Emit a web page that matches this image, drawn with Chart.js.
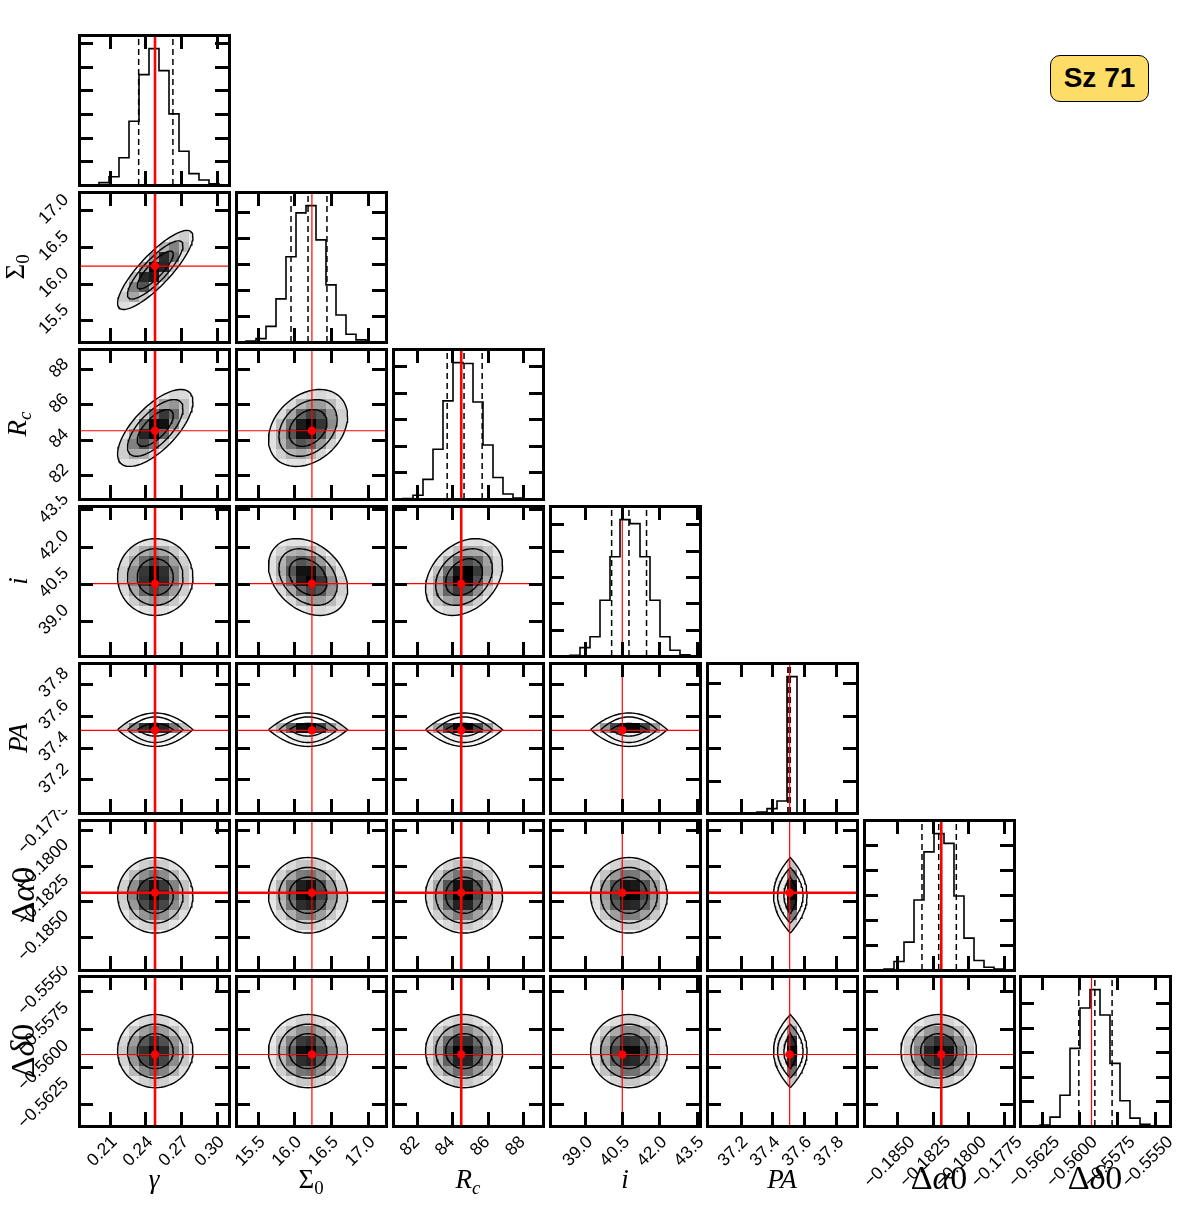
<!DOCTYPE html>
<html>
<head>
<meta charset="utf-8">
<title>Sz 71 corner plot</title>
<script src="https://cdn.jsdelivr.net/npm/chart.js@4.4.1/dist/chart.umd.min.js"></script>
<style>
html, body { margin:0; padding:0; background:#fff; }
#fig { position:relative; width:1200px; height:1205px; background:#fff; overflow:hidden; }
#fig canvas { position:absolute; }
.ttl { position:absolute; font-family:"Liberation Serif","DejaVu Serif",serif; color:#000; white-space:nowrap; line-height:1; }
.bt { transform:translateX(-50%); }
.lt { transform:translate(-50%,-50%) rotate(-90deg); }
.ttl sub { font-size:0.7em; vertical-align:-0.3em; line-height:0; }
#badge { position:absolute; left:1050px; top:55px; width:99px; height:47px; box-sizing:border-box; border:1.5px solid #000; border-radius:10px; background:#FDDC68; font-family:"Liberation Sans",Arial,sans-serif; font-weight:bold; font-size:28px; line-height:44px; text-align:center; color:#000; }
</style>
</head>
<body>
<div id="fig"><div id="badge">Sz 71</div></div>
<script>
// ---------------- data ----------------
const paramKeys   = ['gamma', 'Sigma0', 'Rc', 'i', 'PA', 'dAlpha0', 'dDelta0'];
const axisTitles  = ['<i>γ</i>', 'Σ<sub>0</sub>', '<i>R</i><sub><i>c</i></sub>', '<i>i</i>', '<i>PA</i>', 'Δ<i>α</i>0', 'Δ<i>δ</i>0'];
const axisMin     = [0.1843, 15.205, 80.62, 37.58, 36.99, -0.18730, -0.56393];
const axisMax     = [0.3100, 17.250, 89.15, 43.64, 37.93, -0.17682, -0.55401];
const tickValues  = [
  [0.21, 0.24, 0.27, 0.30],
  [15.5, 16.0, 16.5, 17.0],
  [82, 84, 86, 88],
  [39.0, 40.5, 42.0, 43.5],
  [37.2, 37.4, 37.6, 37.8],
  [-0.1850, -0.1825, -0.1800, -0.1775],
  [-0.5625, -0.5600, -0.5575, -0.5550]
];
const tickLabels  = [
  ['0.21', '0.24', '0.27', '0.30'],
  ['15.5', '16.0', '16.5', '17.0'],
  ['82', '84', '86', '88'],
  ['39.0', '40.5', '42.0', '43.5'],
  ['37.2', '37.4', '37.6', '37.8'],
  ['\u22120.1850', '\u22120.1825', '\u22120.1800', '\u22120.1775'],
  ['\u22120.5625', '\u22120.5600', '\u22120.5575', '\u22120.5550']
];
const truthValues = [0.248, 16.24, 84.5, 40.5, 37.508, -0.1819, -0.5592];
const quantile16  = [0.2343, 15.955, 83.70, 40.07, 37.497, -0.18325, -0.56004];
const quantile50  = [0.2482, 16.187, 84.66, 40.77, 37.505, -0.18208, -0.55898];
const quantile84  = [0.2630, 16.445, 85.69, 41.48, 37.512, -0.18085, -0.55784];
// 15 bins spanning each axis range
const histCounts  = [
  [0, 0, 100, 350, 1150, 2700, 4670, 5770, 4840, 3010, 1430, 480, 210, 55, 0],
  [0, 40, 130, 600, 1660, 3280, 4970, 5250, 3930, 2200, 1040, 300, 80, 0, 0],
  [0, 13, 140, 740, 1870, 3690, 5130, 5100, 3650, 2030, 810, 190, 40, 0, 0],
  [0, 0, 26, 320, 730, 2120, 3770, 5180, 5030, 3770, 2120, 730, 220, 50, 0],
  [30, 0, 0, 0, 30, 155, 670, 1860, 21030, 50, 0, 0, 0, 0, 0],
  [0, 0, 40, 340, 1120, 2810, 4740, 5470, 5080, 2970, 1280, 380, 110, 40, 0],
  [0, 0, 40, 360, 1250, 3160, 4800, 5550, 4520, 2550, 1030, 320, 70, 0, 0]
];
const histTickStep = [1000, 1000, 1000, 1000, 5000, 1000, 1000];
const spread2d     = [0.01435, 0.245, 0.995, 0.705, 0.048, 0.0012, 0.0011];
const correlations = [[1, 0, 0.84], [2, 0, 0.68], [2, 1, 0.30], [3, 1, -0.30], [3, 2, 0.30]];
const contourSigmas = [1.05, 1.62, 2.2];
const paLensHalf    = [0.040, 0.080, 0.105];
const paCenter2d    = 37.512;

// ---------------- layout / style ----------------
const PA = 4;
const N = paramKeys.length;
const panelLeft = [79, 236, 393, 550, 707, 864, 1020];
const panelTop  = [35, 192, 349, 506, 663, 820, 976];
const PANEL = 150, FIG_H = 1205, TICK_LEN = 14;
const FONT_TICK = '"Liberation Sans", Arial, Helvetica, sans-serif';
const FS = 17.5;
const RED = '#ff0000';
const redVWidth = [2.6, 1.2, 2.6, 1.2, 1.2, 2.6, 1.2];
const redHWidth = [1.2, 1.2, 1.2, 1.2, 1.2, 2.6, 1.2];
const bottomTitleSize = [27, 27, 27, 27, 27, 34, 34];
const leftTitleX = [0, 15, 17, 18, 18, 23, 23];

const fig = document.getElementById('fig');
const mctx = document.createElement('canvas').getContext('2d');
mctx.font = FS + 'px ' + FONT_TICK;
const textLen = s => mctx.measureText(s).width;

function rhoFor(a, b) {
  for (const [p, q, v] of correlations) if ((p === a && q === b) || (p === b && q === a)) return v;
  return 0;
}

function cellsFor(px, py) {
  const nb = histCounts[px].length;
  const dx = (axisMax[px] - axisMin[px]) / nb, dy = (axisMax[py] - axisMin[py]) / nb;
  const rho = rhoFor(px, py);
  const w = []; let wmax = 0;
  for (let i = 0; i < nb; i++) for (let j = 0; j < nb; j++) {
    let v;
    if (rho === 0) v = histCounts[px][i] * histCounts[py][j];
    else {
      const zx = (axisMin[px] + (i + 0.5) * dx - quantile50[px]) / spread2d[px];
      const zy = (axisMin[py] + (j + 0.5) * dy - quantile50[py]) / spread2d[py];
      v = Math.exp(-0.5 * (zx * zx - 2 * rho * zx * zy + zy * zy) / (1 - rho * rho));
    }
    w.push({ i, j, v }); if (v > wmax) wmax = v;
  }
  return w.filter(o => o.v / wmax > 0.015).map(o => ({
    x0: axisMin[px] + o.i * dx, x1: axisMin[px] + (o.i + 1) * dx,
    y0: axisMin[py] + o.j * dy, y1: axisMin[py] + (o.j + 1) * dy,
    g: Math.round(255 * (1 - o.v / wmax))
  }));
}

function contourFor(px, py, level) {
  const pts = [];
  if (px === PA || py === PA) {
    const other = px === PA ? py : px;
    const W = contourSigmas[level] * spread2d[other];
    const Hh = paLensHalf[level];
    const oc = quantile50[other];
    const n = 40;
    for (let k = 0; k <= n; k++) {
      const t = -1 + 2 * k / n, a = oc + W * t, b = paCenter2d + Hh * (1 - t * t);
      pts.push(px === PA ? { x: b, y: a } : { x: a, y: b });
    }
    for (let k = n; k >= 0; k--) {
      const t = -1 + 2 * k / n, a = oc + W * t, b = paCenter2d - Hh * (1 - t * t);
      pts.push(px === PA ? { x: b, y: a } : { x: a, y: b });
    }
  } else {
    const rho = rhoFor(px, py), r = contourSigmas[level], s = Math.sqrt(1 - rho * rho);
    for (let k = 0; k <= 80; k++) {
      const th = 2 * Math.PI * k / 80, u = r * Math.cos(th), v = r * Math.sin(th);
      pts.push({ x: quantile50[px] + spread2d[px] * u, y: quantile50[py] + spread2d[py] * (rho * u + s * v) });
    }
  }
  return pts;
}

const panelInfo = new Map();
const cornerPlugin = {
  id: 'cornerPanel',
  beforeDatasetsDraw(chart) {
    const info = panelInfo.get(chart.canvas);
    if (!info || !info.cells) return;
    const ctx = chart.ctx, xs = chart.scales.x, ys = chart.scales.y;
    ctx.save();
    ctx.beginPath();
    info.outer.forEach((p, k) => {
      const X = xs.getPixelForValue(p.x), Y = ys.getPixelForValue(p.y);
      if (k === 0) ctx.moveTo(X, Y); else ctx.lineTo(X, Y);
    });
    ctx.closePath();
    ctx.clip();
    for (const c of info.cells) {
      const x0 = Math.round(xs.getPixelForValue(c.x0)), x1 = Math.round(xs.getPixelForValue(c.x1));
      const y0 = Math.round(ys.getPixelForValue(c.y1)), y1 = Math.round(ys.getPixelForValue(c.y0));
      ctx.fillStyle = 'rgb(' + c.g + ',' + c.g + ',' + c.g + ')';
      ctx.fillRect(x0, y0, x1 - x0, y1 - y0);
    }
    ctx.restore();
  },
  afterDraw(chart) {
    const info = panelInfo.get(chart.canvas);
    if (!info) return;
    const ctx = chart.ctx, a = chart.chartArea, xs = chart.scales.x, ys = chart.scales.y;
    ctx.save();
    ctx.strokeStyle = '#000'; ctx.lineWidth = 3; ctx.lineCap = 'butt';
    ctx.beginPath();
    for (const v of info.xTicks) {
      const p = xs.getPixelForValue(v);
      if (p < a.left + 3 || p > a.right - 3) continue;
      const X = Math.round(p) + 0.5;
      ctx.moveTo(X, a.top); ctx.lineTo(X, a.top + TICK_LEN);
      ctx.moveTo(X, a.bottom); ctx.lineTo(X, a.bottom - TICK_LEN);
    }
    for (const v of info.yTicks) {
      const p = ys.getPixelForValue(v);
      if (p < a.top + 3 || p > a.bottom - 3) continue;
      const Y = Math.round(p) + 0.5;
      ctx.moveTo(a.left, Y); ctx.lineTo(a.left + TICK_LEN, Y);
      ctx.moveTo(a.right, Y); ctx.lineTo(a.right - TICK_LEN, Y);
    }
    ctx.stroke();
    ctx.strokeRect(a.left + 0.5, a.top + 0.5, a.right - a.left, a.bottom - a.top);
    ctx.restore();
  }
};

function lineDS(points, color, width, dash) {
  return { data: points, showLine: true, borderColor: color, borderWidth: width, borderDash: dash || [],
           pointRadius: 0, pointHoverRadius: 0, fill: false, tension: 0 };
}

function makePanel(r, c) {
  const isHist = r === c;
  const showX = r === N - 1;
  const showY = c === 0 && r > 0;
  const padL = c === 0 ? panelLeft[0] : 10;
  const padR = showX ? 40 : 10;
  const padT = 10;
  const padB = showX ? FIG_H - (panelTop[r] + PANEL) : 10;
  const W = PANEL + padL + padR, H = PANEL + padT + padB;
  const cv = document.createElement('canvas');
  cv.width = W; cv.height = H;
  cv.style.left = (panelLeft[c] - padL) + 'px';
  cv.style.top = (panelTop[r] - padT) + 'px';
  cv.style.width = W + 'px'; cv.style.height = H + 'px';
  fig.appendChild(cv);

  const datasets = []; // bottom -> top
  let yMin, yMax, yTicks;
  if (isHist) {
    const counts = histCounts[c];
    const nb = counts.length, dx = (axisMax[c] - axisMin[c]) / nb;
    yMin = 0; yMax = 1.1 * Math.max(...counts);
    yTicks = [];
    for (let v = histTickStep[c]; v <= yMax; v += histTickStep[c]) yTicks.push(v);
    const pts = [{ x: axisMin[c], y: 0 }];
    counts.forEach((n, k) => { pts.push({ x: axisMin[c] + k * dx, y: n }, { x: axisMin[c] + (k + 1) * dx, y: n }); });
    pts.push({ x: axisMax[c], y: 0 });
    datasets.push(lineDS(pts, '#000', 1.6));
    for (const q of [quantile16[c], quantile50[c], quantile84[c]])
      datasets.push(lineDS([{ x: q, y: 0 }, { x: q, y: yMax }], '#000', 1.5, [6, 4]));
    datasets.push(lineDS([{ x: truthValues[c], y: 0 }, { x: truthValues[c], y: yMax }], RED, redVWidth[c]));
    panelInfo.set(cv, { xTicks: tickValues[c], yTicks });
  } else {
    yMin = axisMin[r]; yMax = axisMax[r]; yTicks = tickValues[r];
    const contours = [0, 1, 2].map(l => contourFor(c, r, l));
    contours.forEach(p => datasets.push(lineDS(p, '#000', 1.4)));
    datasets.push(lineDS([{ x: truthValues[c], y: axisMin[r] }, { x: truthValues[c], y: axisMax[r] }], RED, redVWidth[c]));
    datasets.push(lineDS([{ x: axisMin[c], y: truthValues[r] }, { x: axisMax[c], y: truthValues[r] }], RED, redHWidth[r]));
    datasets.push({ data: [{ x: truthValues[c], y: truthValues[r] }], showLine: false, pointRadius: 4.2,
                    pointBackgroundColor: RED, pointBorderWidth: 0, pointHoverRadius: 0 });
    panelInfo.set(cv, { xTicks: tickValues[c], yTicks, cells: cellsFor(c, r), outer: contours[2] });
  }
  datasets.reverse(); // Chart.js paints the first dataset on top

  const Lx = Math.max(...tickLabels[c].map(textLen));
  const Ly = Math.max(...tickLabels[r].map(textLen));
  const xScale = {
    type: 'linear', position: 'bottom', min: axisMin[c], max: axisMax[c], display: showX,
    grid: { display: false, drawTicks: false, tickLength: 0 }, border: { display: false },
    ticks: { display: showX, autoSkip: false, minRotation: 45, maxRotation: 45, padding: 6,
             labelOffset: 0.354 * (Lx - 1.18 * FS), color: '#000', font: { family: FONT_TICK, size: FS },
             callback: (v, idx) => tickLabels[c][idx] },
    afterBuildTicks: s => { s.ticks = tickValues[c].map(v => ({ value: v })); }
  };
  if (showX) xScale.afterFit = s => { s.height = padB; s.paddingLeft = s.paddingRight = s.paddingTop = s.paddingBottom = 0; };
  const yScale = {
    type: 'linear', position: 'left', min: yMin, max: yMax, display: showY,
    grid: { display: false, drawTicks: false, tickLength: 0 }, border: { display: false },
    ticks: { display: showY, autoSkip: false, minRotation: 45, maxRotation: 45, padding: 13,
             labelOffset: -0.354 * Ly - 1, color: '#000', font: { family: FONT_TICK, size: FS },
             callback: (v, idx) => isHist ? '' : tickLabels[r][idx] },
    afterBuildTicks: s => { s.ticks = yTicks.map(v => ({ value: v })); }
  };
  if (showY) yScale.afterFit = s => { s.width = padL; s.paddingLeft = s.paddingRight = s.paddingTop = s.paddingBottom = 0; };

  new Chart(cv, {
    type: 'scatter',
    data: { datasets },
    options: {
      responsive: false, animation: false, devicePixelRatio: 1, events: [],
      layout: { padding: { left: showY ? 0 : padL, right: padR, top: padT, bottom: showX ? 0 : padB } },
      plugins: { legend: { display: false }, tooltip: { enabled: false }, title: { display: false } },
      scales: { x: xScale, y: yScale }
    },
    plugins: [cornerPlugin]
  });
}

for (let r = 0; r < N; r++) for (let c = 0; c <= r; c++) makePanel(r, c);

// axis titles
for (let k = 0; k < N; k++) {
  const fs = bottomTitleSize[k];
  const d = document.createElement('div');
  d.className = 'ttl bt';
  d.style.fontSize = fs + 'px';
  d.style.left = (panelLeft[k] + PANEL / 2) + 'px';
  d.style.top = (1189 - 0.8375 * fs) + 'px';
  d.innerHTML = axisTitles[k];
  fig.appendChild(d);
  if (k > 0) {
    const e = document.createElement('div');
    e.className = 'ttl lt';
    e.style.fontSize = fs + 'px';
    e.style.left = leftTitleX[k] + 'px';
    e.style.top = (panelTop[k] + PANEL / 2) + 'px';
    e.innerHTML = axisTitles[k];
    fig.appendChild(e);
  }
}
</script>
</body>
</html>
